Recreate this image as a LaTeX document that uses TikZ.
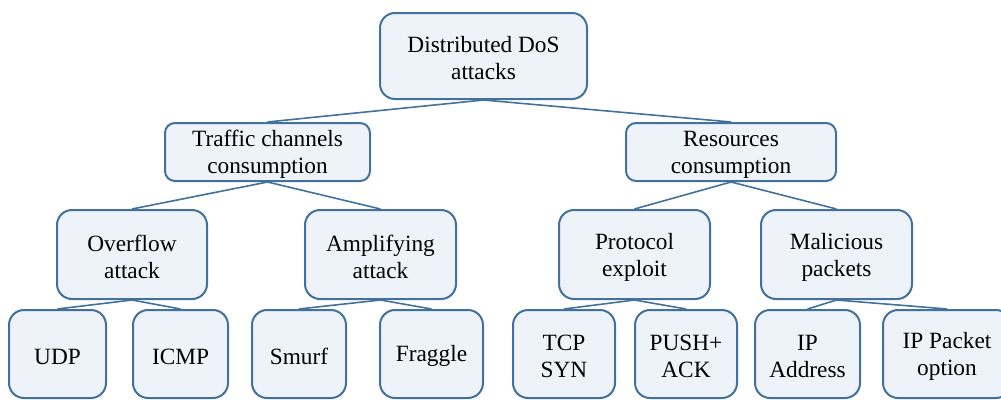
\documentclass[tikz,border=0pt]{standalone}
\usepackage{fontspec}
\setmainfont{Liberation Serif}
\usepackage{tikz}
\usetikzlibrary{shapes,arrows}
\definecolor{boxline}{RGB}{65,113,156}
\definecolor{boxfill}{RGB}{238,243,250}
\tikzstyle{boxbase} = [rectangle, draw=boxline, fill=boxfill, line width=2pt,
    text centered, align=center, rounded corners=15pt, inner sep=0pt,
    font=\fontsize{23.3}{27}\selectfont]
\tikzstyle{treeblock} = [boxbase, execute at begin node={\rule{0pt}{48pt}}]
\tikzstyle{leafblock} = [boxbase, minimum height=88pt, execute at begin node={\rule{0pt}{21pt}}]
\tikzstyle{leafpair} = [treeblock, minimum height=88pt]
\tikzstyle{link} = [-, line width=1.6pt, draw=boxline]

\begin{document}
\begin{tikzpicture}[x=1pt, y=-1pt, node distance = 99.5pt]
    \useasboundingbox (0,0) rectangle (1001,399);
    \clip (0,0) rectangle (1001,399);
    \node [treeblock, minimum width=207pt, minimum height=86pt] (ddos) at (483.5,56) {Distributed DoS\\attacks};
    \node [treeblock, below of=ddos, node distance=96pt, xshift=-216pt, minimum width=205pt, minimum height=58pt, rounded corners=10pt] (traffic) {Traffic channels\\consumption};
    \node [treeblock, right of=traffic, node distance=463.5pt, minimum width=210pt, minimum height=58pt, rounded corners=10pt] (resources) {Resources\\consumption};
    \node [treeblock, below of=traffic, node distance=102.5pt, xshift=-135.5pt, minimum width=150pt, minimum height=89pt] (overflow) {Overflow\\attack};
    \node [treeblock, right of=overflow, node distance=248.5pt, minimum width=151pt, minimum height=89pt] (amplifying) {Amplifying\\attack};
    \node [treeblock, below of=resources, node distance=102.5pt, xshift=-96.5pt, minimum width=151pt, minimum height=89pt] (protocol) {Protocol\\exploit};
    \node [treeblock, right of=protocol, node distance=202pt, minimum width=151pt, minimum height=89pt] (malicious) {Malicious\\packets};
    \node [leafblock, below of=overflow, xshift=-74.5pt, minimum width=97pt] (udp) {UDP};
    \node [leafblock, right of=udp, node distance=123pt, minimum width=95pt] (icmp) {ICMP};
    \node [leafblock, below of=amplifying, xshift=-81.5pt, minimum width=94pt] (smurf) {Smurf};
    \node [leafblock, right of=smurf, node distance=132.5pt, minimum width=103pt] (fraggle) {Fraggle};
    \node [leafpair, below of=protocol, xshift=-70.5pt, minimum width=102pt] (tcpsyn) {TCP\\SYN};
    \node [leafpair, right of=tcpsyn, node distance=122pt, minimum width=102pt] (pushack) {PUSH+\\ACK};
    \node [leafpair, below of=malicious, xshift=-29pt, minimum width=105pt] (ipaddr) {IP\\Address};
    \node [leafpair, right of=ipaddr, node distance=139.5pt, minimum width=128pt] (ippacket) {IP Packet\\option};
    % Draw edges
    \draw [link] (ddos.south) -- (traffic.north);
    \draw [link] (ddos.south) -- (resources.north);
    \draw [link] (traffic.south) -- (overflow.north);
    \draw [link] (traffic.south) -- (amplifying.north);
    \draw [link] (resources.south) -- (protocol.north);
    \draw [link] (resources.south) -- (malicious.north);
    \draw [link] (overflow.south) -- (udp.north);
    \draw [link] (overflow.south) -- (icmp.north);
    \draw [link] (amplifying.south) -- (smurf.north);
    \draw [link] (amplifying.south) -- (fraggle.north);
    \draw [link] (protocol.south) -- (tcpsyn.north);
    \draw [link] (protocol.south) -- (pushack.north);
    \draw [link] (malicious.south) -- (ipaddr.north);
    \draw [link] (malicious.south) -- (ippacket.north);
\end{tikzpicture}
\end{document}
